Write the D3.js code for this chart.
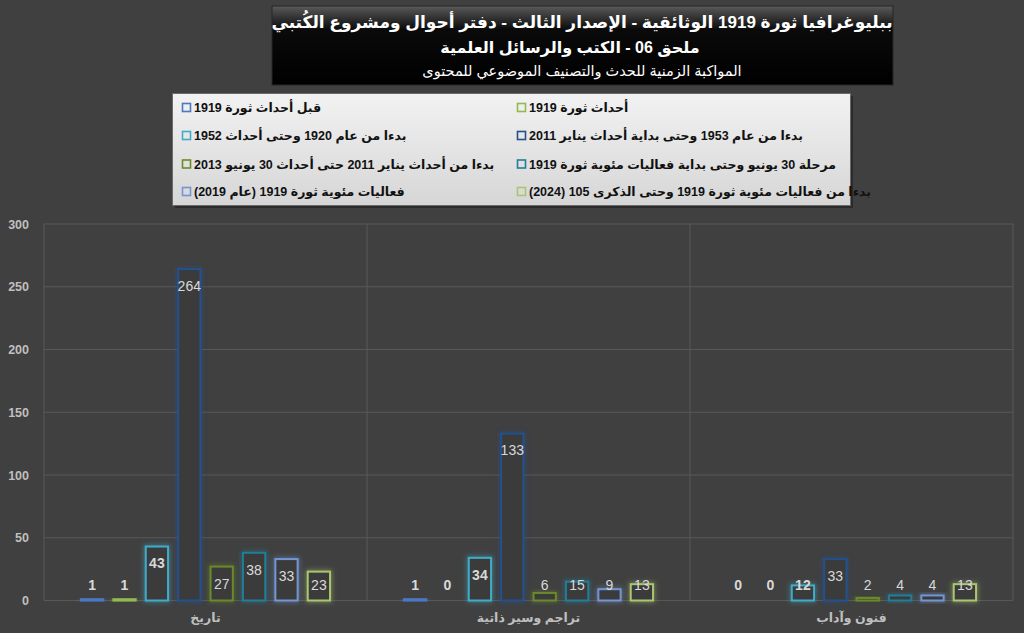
<!DOCTYPE html>
<html><head><meta charset="utf-8">
<script src="https://cdn.jsdelivr.net/npm/d3@7"></script>
<style>
html,body{margin:0;padding:0;background:#404040;}
svg{display:block;}
text{font-family:"Liberation Sans","DejaVu Sans",Arial,sans-serif;}
</style></head><body>
<svg id="chart" width="1024" height="633"></svg>
<script>
const titleLines = ["ببليوغرافيا ثورة 1919 الوثائقية - الإصدار الثالث - دفتر أحوال ومشروع الكُتبي",
  "ملحق 06 - الكتب والرسائل العلمية",
  "المواكبة الزمنية للحدث والتصنيف الموضوعي للمحتوى"];
const categories = ["تاريخ", "تراجم وسير ذاتية", "فنون وآداب"];
const seriesNames = [
  "قبل أحداث ثورة 1919",
  "أحداث ثورة 1919",
  "بدءا من عام 1920 وحتى أحداث 1952",
  "بدءا من عام 1953 وحتى بداية أحداث يناير 2011",
  "بدءا من أحداث يناير 2011 حتى أحداث 30 يونيو 2013",
  "مرحلة 30 يونيو وحتى بداية فعاليات مئوية ثورة 1919",
  "فعاليات مئوية ثورة 1919 (عام 2019)",
  "بدءا من فعاليات مئوية ثورة 1919 وحتى الذكرى 105 (2024)"
];
const seriesColors = ["#4a78c4","#93b951","#40acc9","#24518c","#6b8a2a","#237d98","#7396d2","#aac66e"];
// values per series, in category order
const s1 = [1, 1, 0];
const s2 = [1, 0, 0];
const s3 = [43, 34, 12];
const s4 = [264, 133, 33];
const s5 = [27, 6, 2];
const s6 = [38, 15, 4];
const s7 = [33, 9, 4];
const s8 = [23, 13, 13];
const seriesValues = [s1, s2, s3, s4, s5, s6, s7, s8];
const yTicks = [0, 50, 100, 150, 200, 250, 300];

const svg = d3.select("#chart");
const defs = svg.append("defs");

// title box
const tg = defs.append("linearGradient").attr("id","tgrad").attr("x1",0).attr("y1",0).attr("x2",0).attr("y2",1);
tg.append("stop").attr("offset","0%").attr("stop-color","#5a5a5a");
tg.append("stop").attr("offset","30%").attr("stop-color","#0a0a0a");
tg.append("stop").attr("offset","100%").attr("stop-color","#000");
svg.append("rect").attr("x",272).attr("y",6).attr("width",621).attr("height",79).attr("fill","url(#tgrad)").attr("stroke","#262626");
svg.append("text").attr("x",582).attr("y",28).attr("text-anchor","middle").attr("fill","#fff")
  .attr("font-size",17).attr("font-weight","bold").text(titleLines[0]);
svg.append("text").attr("x",570).attr("y",53).attr("text-anchor","middle").attr("fill","#fff")
  .attr("font-size",16).attr("font-weight","bold").text(titleLines[1]);
svg.append("text").attr("x",582).attr("y",76).attr("text-anchor","middle").attr("fill","#fff")
  .attr("font-size",14.5).text(titleLines[2]);

// legend
const lg = defs.append("linearGradient").attr("id","lgrad").attr("x1",0).attr("y1",0).attr("x2",0).attr("y2",1);
lg.append("stop").attr("offset","0%").attr("stop-color","#f2f2f2");
lg.append("stop").attr("offset","100%").attr("stop-color","#d6d6d6");
svg.append("rect").attr("x",175).attr("y",96).attr("width",678).attr("height",112).attr("fill","#1e1e1e").attr("opacity",0.6);
svg.append("rect").attr("x",172.5).attr("y",93.5).attr("width",678).attr("height",112).attr("fill","url(#lgrad)").attr("stroke","#6a6a6a");
const legendRows = [108, 136, 164.5, 192];
const legendCols = [182, 517];
seriesNames.forEach((name, i) => {
  const col = i < 4 ? 0 : 1;
  const row = i % 4;
  const order = [0,2,4,6,1,3,5,7];
  const si = order[i];
  const x = legendCols[col], y = legendRows[row];
  svg.append("rect").attr("x",x+0.5).attr("y",y-4.5).attr("width",8).attr("height",8)
    .attr("fill","none").attr("stroke",seriesColors[si]).attr("stroke-width",1.6);
  svg.append("text").attr("x",x+12).attr("y",y).attr("dy","0.35em")
    .attr("direction","rtl").attr("text-anchor","end")
    .attr("font-size",12.5).attr("font-weight","bold").attr("fill","#111").text(seriesNames[si]);
});

// plot
const x0 = d3.scaleBand().domain(categories).range([44, 1013]).padding(0);
const x1 = d3.scaleBand().domain(d3.range(8)).range([0, x0.bandwidth()]).paddingInner(0.25).paddingOuter(1.11);
const y = d3.scaleLinear().domain([0, 300]).range([600.5, 224]);

const grid = svg.append("g");
yTicks.forEach(t => {
  grid.append("line").attr("x1",44).attr("x2",1013).attr("y1",y(t)).attr("y2",y(t))
    .attr("stroke","#585858").attr("stroke-width",1);
});
const bounds = categories.map(c => x0(c)).concat([1013]);
bounds.forEach(b => {
  grid.append("line").attr("x1",b).attr("x2",b).attr("y1",y(300)).attr("y2",y(0))
    .attr("stroke","#585858").attr("stroke-width",1);
});

const yAxis = svg.append("g").attr("transform","translate(37,0)")
  .call(d3.axisLeft(y).tickValues(yTicks).tickSize(0).tickPadding(8));
yAxis.select(".domain").remove();
yAxis.selectAll("text").attr("fill","#bfbfbf").attr("font-size",12.5).attr("font-weight","bold")
  .attr("font-family","\"Liberation Sans\",\"DejaVu Sans\",sans-serif");

const xAxis = svg.append("g").attr("transform",`translate(0,${y(0)})`)
  .call(d3.axisBottom(x0).tickSize(0).tickPadding(13));
xAxis.select(".domain").remove();
xAxis.selectAll("text").attr("fill","#bfbfbf").attr("font-size",12.5).attr("font-weight","bold")
  .attr("font-family","\"Liberation Sans\",\"DejaVu Sans\",sans-serif");

// glow filters
seriesColors.forEach((c, i) => {
  const f = defs.append("filter").attr("id","glow"+i).attr("x","-50%").attr("y","-50%").attr("width","200%").attr("height","200%");
  f.append("feMorphology").attr("in","SourceAlpha").attr("operator","dilate").attr("radius",1).attr("result","d");
  f.append("feFlood").attr("flood-color",c).attr("flood-opacity",0.45).attr("result","fc");
  f.append("feComposite").attr("in","fc").attr("in2","d").attr("operator","in").attr("result","col");
  f.append("feGaussianBlur").attr("in","col").attr("stdDeviation",2.5).attr("result","b");
  const m = f.append("feMerge");
  m.append("feMergeNode").attr("in","b");
  m.append("feMergeNode").attr("in","SourceGraphic");
});

const data = [];
categories.forEach((c, ci) => {
  seriesValues.forEach((vals, si) => data.push({c, si, v: vals[ci]}));
});

const bars = svg.append("g");
bars.selectAll("rect").data(data.filter(d => d.v > 0)).join("rect")
  .attr("x", d => x0(d.c) + x1(d.si) + 1)
  .attr("y", d => y(d.v))
  .attr("width", x1.bandwidth() - 2)
  .attr("height", d => y(0) - y(d.v))
  .attr("fill", d => d.v <= 1 ? seriesColors[d.si] : "#3b3b3b")
  .attr("stroke", d => seriesColors[d.si])
  .attr("stroke-width", 2)
  .attr("filter", d => `url(#glow${d.si})`);

svg.append("g").selectAll("text").data(data).join("text")
  .attr("x", d => x0(d.c) + x1(d.si) + x1.bandwidth()/2)
  .attr("y", d => Math.min(y(d.v) + 17, 585))
  .attr("dy","0.35em").attr("text-anchor","middle")
  .attr("font-size",14)
  .attr("font-weight", d => d.si < 3 ? "bold" : "normal")
  .attr("fill","#d9d9d9")
  .text(d => d.v);
</script>
</body></html>
